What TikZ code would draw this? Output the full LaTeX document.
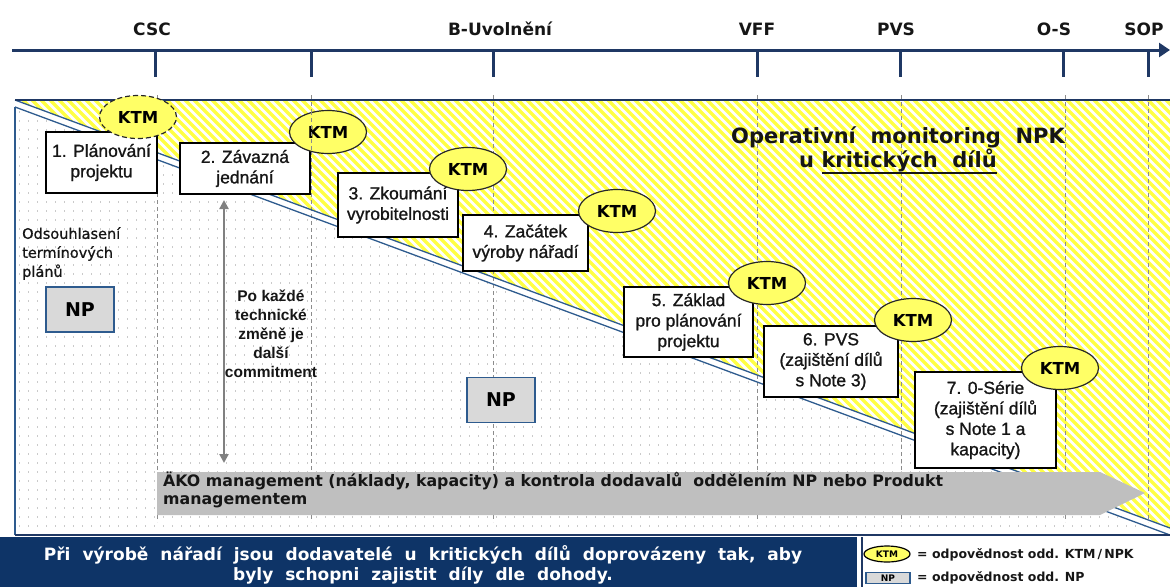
\documentclass[tikz,border=0pt]{standalone}
\usepackage{fontspec}
\setmainfont{Liberation Sans}
\newfontfamily\dvs{DejaVu Sans}
\newfontfamily\boxfont[FakeBold=1.1]{Liberation Sans}
\newfontfamily\notefont[FakeBold=0.8]{DejaVu Sans}
\usetikzlibrary{shapes.geometric,arrows.meta}

\definecolor{navy}{HTML}{1F3864}
\definecolor{steel}{HTML}{2E5B8E}
\definecolor{banner}{HTML}{0E3467}
\definecolor{ktmyellow}{HTML}{FFFF66}
\definecolor{stripe}{HTML}{FFFF44}
\definecolor{txt}{HTML}{161616}
\definecolor{npgray}{HTML}{D9D9D9}
\definecolor{arrgray}{HTML}{BFBFBF}
\definecolor{dashgray}{HTML}{8C8C8C}
\definecolor{dotgray}{HTML}{CACACA}
\definecolor{dblgray}{HTML}{808080}

% underline drawn below the descenders
\newcommand\lowul[1]{\setbox0\hbox{#1}\rlap{\rule[-6.5pt]{\wd0}{1.6pt}}\box0}
% wider word spacing for the banner
\newcommand\widespacing{\spaceskip=12pt plus 2pt minus 1pt\relax}

\tikzset{
  stepbox/.style={draw=black, line width=1.2, fill=white, align=center, inner sep=0,
    text=txt, font=\boxfont\fontsize{17.5}{20.5}\selectfont},
  ktm/.style={ellipse, draw=black!85, line width=1.2, fill=ktmyellow, minimum width=77,
    minimum height=43, inner sep=0, text=black, font=\dvs\bfseries\fontsize{16.5}{18}\selectfont},
  npbox/.style={draw=steel, line width=1.5, fill=npgray, minimum width=68, minimum height=45,
    inner sep=0, text=black, font=\dvs\bfseries\fontsize{19}{20}\selectfont},
  tl/.style={anchor=base, text=txt, font=\dvs\bfseries\fontsize{17}{20}\selectfont},
  dashv/.style={dashgray, line width=0.9, dash pattern=on 4 off 3},
  diag/.style={steel, line width=1.3},
  bantext/.style={anchor=base, inner sep=0, text=white,
    font=\dvs\bfseries\fontsize{17}{18}\selectfont\widespacing},
  legtext/.style={anchor=base west, inner sep=0, text=txt, font=\dvs\bfseries\fontsize{12.5}{14}\selectfont},
}

\begin{document}
\begin{tikzpicture}[x=1pt,y=-1pt]
\useasboundingbox (0,0) rectangle (1170,587);

% yellow hatching above the diagonal
\begin{scope}
  \clip (15,100) -- (1170,100) -- (1170,528) -- cycle;
  \foreach \i in {0,9,...,1180} \draw[stripe, line width=3.4] (\i,95) -- ++(450,450);
\end{scope}

% dotted area below the diagonal
\begin{scope}
  \clip (15,107) -- (1170,535) -- (15,535) -- cycle;
  \foreach \yy in {112,121,...,535}
    \draw[dotgray, line width=1.2, dash pattern=on 1.2 off 7.8] (19,\yy) -- (1170,\yy);
\end{scope}

% white gap between the two diagonal lines
\fill[white] (15,100) -- (1170,528) -- (1170,535) -- (15,107) -- cycle;

% milestone guides
\foreach \x in {157,311,493,757,901,1065,1148} \draw[dashv] (\x,95) -- (\x,522);

% diagonal double line and frame
\draw[diag] (15,100) -- (1170,528);
\draw[diag] (15,107) -- (1170,535);
\draw[navy, line width=1.5] (15,100) -- (1170,100);
\draw[steel, line width=1.5] (15,107) -- (15,535);
\draw[navy, line width=2] (15,535) -- (1170,535);

% time axis
\draw[navy, line width=3, -{Triangle[length=11,width=14]}] (12,50) -- (1170,50);
\foreach \x in {155,311,493,757,900,1063,1148} \draw[navy, line width=3] (\x,50) -- (\x,77);
\node[tl] (mcsc) at (152,35) {CSC};
\node[tl] (mbu) at (500,35) {B-Uvolnění};
\node[tl] (mvff) at (757,35) {VFF};
\node[tl] (mpvs) at (896,35) {PVS};
\node[tl] (mos) at (1054,35) {O-S};
\node[tl] (msop) at (1144,35) {SOP};

% management arrow
\fill[arrgray] (157,472) -- (1100,472) -- (1145,493) -- (1100,515) -- (157,515) -- cycle;
\node[anchor=north west, inner sep=0, align=left, text=txt,
      font=\dvs\bfseries\fontsize{15.8}{18}\selectfont] (ako) at (163,472)
  {ÄKO management (náklady, kapacity) a kontrola dodavalů~ oddělením NP nebo Produkt\\managementem};

% phase boxes
\node[stepbox, minimum width=111, minimum height=61] (b1) at (101.5,162.5) {1. Plánování\\projektu};
\node[stepbox, minimum width=130, minimum height=51] (b2) at (245,168.5) {2. Závazná\\jednání};
\node[stepbox, minimum width=120, minimum height=64] (b3) at (398,205) {3. Zkoumání\\vyrobitelnosti};
\node[stepbox, minimum width=125, minimum height=56] (b4) at (525.5,243) {4. Začátek\\výroby nářadí};
\node[stepbox, minimum width=129, minimum height=70] (b5) at (688.5,322) {5. Základ\\pro plánování\\projektu};
\node[stepbox, minimum width=134, minimum height=71] (b6) at (831,361.5) {6. PVS\\(zajištění dílů\\s Note 3)};
\node[stepbox, minimum width=141, minimum height=96] (b7) at (985.5,420) {7. 0-Série\\(zajištění dílů\\s Note 1 a\\kapacity)};

% KTM responsibility marks
\node[ktm, dash pattern=on 5 off 3] (k1) at (138,117) {KTM};
\node[ktm] (k2) at (328,132) {KTM};
\draw[dashv] (311,111) -- (311,153);
\node[ktm] (k3) at (468,169) {KTM};
\node[ktm] (k4) at (617,211) {KTM};
\node[ktm] (k5) at (767,283) {KTM};
\node[ktm] (k6) at (913,320) {KTM};
\node[ktm] (k7) at (1060,368) {KTM};

% NP responsibility marks
\node[npbox] (np1) at (80,309.5) {NP};
\node[npbox] (np2) at (501,400) {NP};

% side notes
\node[anchor=north west, inner sep=0, align=left, text=txt,
      font=\notefont\fontsize{14.5}{19}\selectfont] (odso) at (22,227)
  {Odsouhlasení\\termínových\\plánů};
\node[align=center, inner sep=0, text=txt, font=\bfseries\fontsize{15.5}{19}\selectfont]
  (pokazde) at (271,334) {Po každé\\technické\\změně je\\další\\commitment};
\coordinate (ca) at (224,200);
\coordinate (cb) at (224,463);
\draw[dblgray, line width=2.5, {Triangle[length=9,width=9]}-{Triangle[length=9,width=9]}] (ca) -- (cb);

% heading of the hatched area
\node[align=center, inner sep=0, text=txt, font=\dvs\bfseries\fontsize{21}{20}\selectfont]
  (oper) at (898,150) {Operativní\ \ monitoring\ \ NPK\\u \lowul{kritických\ \ dílů}};

% bottom banner
\fill[banner] (0,537) rectangle (857,587);
\node[bantext] (ban1) at (423,560) {Při výrobě nářadí jsou dodavatelé u kritických dílů doprovázeny tak, aby};
\node[bantext] (ban2) at (423,580) {byly schopni zajistit díly dle dohody.};

% legend
\draw[navy, line width=2] (862,537) -- (862,587);
\node[ellipse, draw=black, line width=1.2, fill=ktmyellow, minimum width=46, minimum height=16,
      inner sep=0, font=\dvs\bfseries\fontsize{9}{10}\selectfont] (lk) at (887,554) {KTM};
\node[draw=steel, line width=1.2, fill=npgray, minimum width=44, minimum height=11, inner sep=0,
      font=\dvs\bfseries\fontsize{9}{10}\selectfont] (lnp) at (888,578) {NP};
\node[legtext] (lkt) at (917,558) {= odpovědnost odd. KTM\,/\,NPK};
\node[legtext] (lnt) at (917,581) {= odpovědnost odd. NP};
\end{tikzpicture}
\end{document}
